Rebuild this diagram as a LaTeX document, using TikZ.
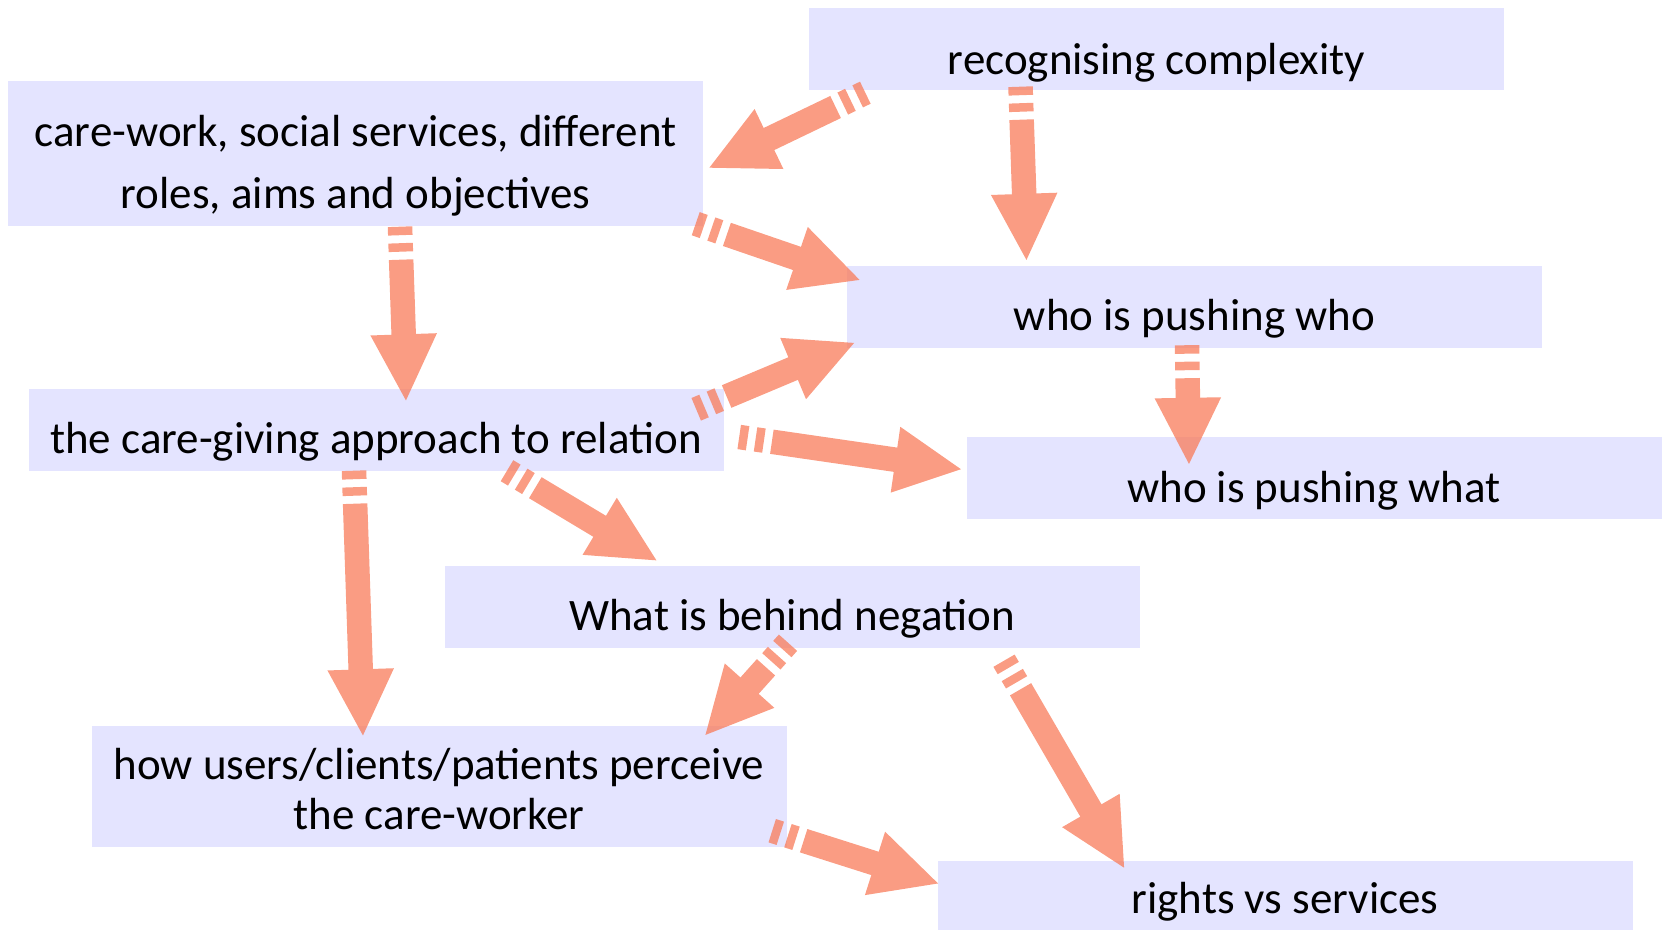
\documentclass[tikz,border=0pt]{standalone}
\usepackage{fontspec}
\setmainfont{Carlito}
\usetikzlibrary{arrows.meta,calc}
\definecolor{topicfill}{RGB}{228,228,255}
\definecolor{pushcol}{RGB}{248,128,96}
\begin{document}
\begin{tikzpicture}[x=0.1mm,y=-0.1mm,
  topic/.style={fill=topicfill, inner sep=0pt, minimum width=69.5mm,
    minimum height=8.2mm, align=center, text depth=0pt,
    font=\fontsize{12.8}{14.2}\selectfont},
  push/.style={draw=pushcol, line width=2.45mm,
    dash pattern=on 0.85mm off 0.8mm on 0.85mm off 0.8mm on 60cm off 1mm,
    -{Triangle[length=6.8mm,width=6.1mm]}}]
\useasboundingbox (0,0) rectangle (1662,929);

\node[topic, text height=5.2mm] (A) at (1156.5,49) {recognising complexity};
\node[topic, minimum height=14.5mm, text height=10.9mm] (B) at (355.5,153.5)
 {care-work, social services, different\\[3.3pt] roles, aims and objectives};
\node[topic, text height=4.8mm] (C) at (1194.5,306.5) {who is pushing who};
\node[topic, text height=4.7mm] (D) at (376,430) {the care-giving approach to relation};
\node[topic, text height=5mm] (E) at (1314,477.5) {who is pushing what};
\node[topic, text height=4.7mm] (F) at (792,607) {What is behind negation};
\node[topic, minimum height=12.1mm, text height=8.5mm] (G) at (439,786.5)
 {how users/clients/patients perceive\\ the care-worker};
\node[topic, text height=2.2mm] (H) at (1285,902) {rights vs services};

% arrows, faded all together
\begin{scope}[transparency group, opacity=0.78]
\draw[push] ($(A.south west)+(57,2)$) to ($(B.east)+(4,15)$);
\draw[push] ($(A.south)+(-136,-4)$) to ($(C.north)+(-168,-3)$);
\draw[push] ($(B.south east)+(-8,-3)$) to ($(C.west)+(15,-26)$);
\draw[push] ($(B.south)+(44.5,0)$) to ($(D.north)+(30,14)$);
\draw[push] ($(D.north east)+(-28,21)$) to ($(C.south west)+(9.5,-6)$);
\draw[push] ($(D.east)+(15,7)$) to ($(E.west)+(-3,-8)$);
\draw[push] ($(C.south)+(-7.5,-3)$) to ($(E.north)+(-125,30)$);
\draw[push] ($(D.south)+(131,-1)$) to ($(F.north)+(-134,-4)$);
\draw[push] ($(D.south)+(-22,-1)$) to ($(G.north)+(-76,12)$);
\draw[push] ($(F.south)+(-4,-6)$) to ($(G.north east)+(-83,11)$);
\draw[push] ($(F.south)+(212,12)$) to ($(H.north)+(-160,9)$);
\draw[push] ($(G.south east)+(-15,-17)$) to ($(H.west)+(3,-18)$);
\end{scope}
\end{tikzpicture}
\end{document}
